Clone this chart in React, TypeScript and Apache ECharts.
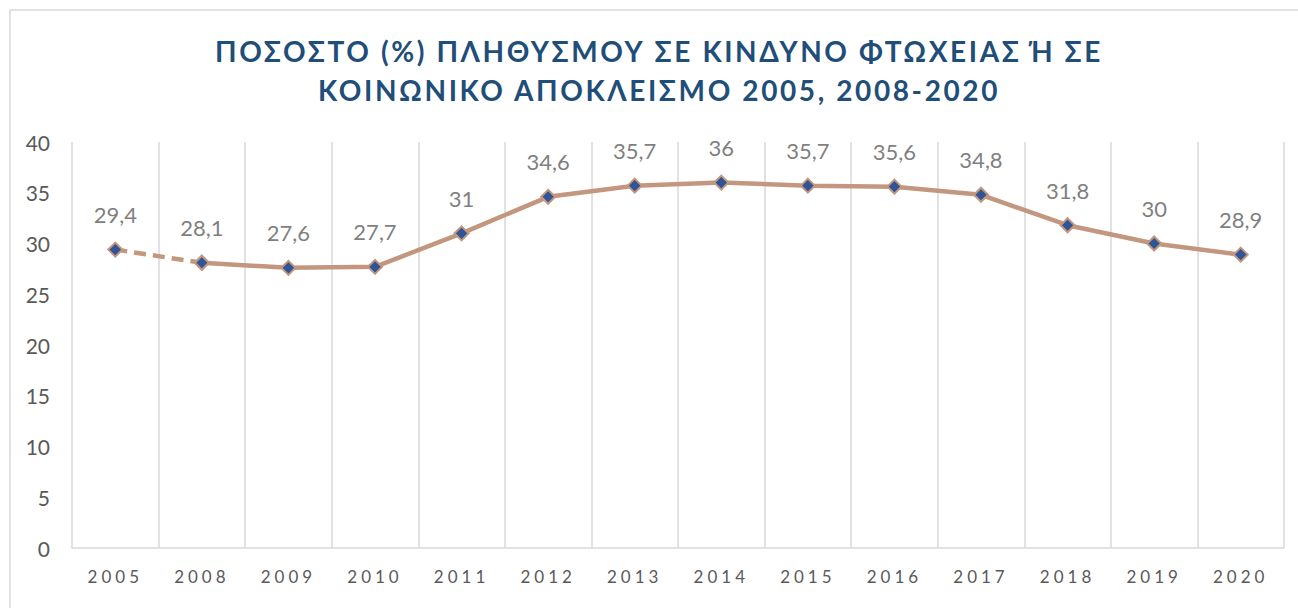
import React, { useEffect, useRef } from "react";
import * as echarts from "echarts";

const categories = ["2005", "2008", "2009", "2010", "2011", "2012", "2013", "2014", "2015", "2016", "2017", "2018", "2019", "2020"];
const dashedValues = [29.4, 28.1, null, null, null, null, null, null, null, null, null, null, null, null];
const solidValues = [null, 28.1, 27.6, 27.7, 31, 34.6, 35.7, 36, 35.7, 35.6, 34.8, 31.8, 30, 28.9];
const titleLines = ["ΠΟΣΟΣΤΟ (%) ΠΛΗΘΥΣΜΟΥ ΣΕ ΚΙΝΔΥΝΟ ΦΤΩΧΕΙΑΣ Ή ΣΕ", "ΚΟΙΝΩΝΙΚΟ ΑΠΟΚΛΕΙΣΜΟ 2005, 2008-2020"];

const LINE = "#c3977f";
const MARK = "#2f5597";

export default function App() {
  const ref = useRef<HTMLDivElement>(null);
  useEffect(() => {
    document.body.style.margin = "0";
    const chart = echarts.init(ref.current!, null, { renderer: "svg" });
    const fmt = (p: any) => String(p.value).replace(".", ",");
    const marker = {
      symbol: "diamond",
      symbolSize: 14,
      itemStyle: { color: MARK, borderColor: LINE, borderWidth: 2 },
    };
    const labelStyle = {
      show: true,
      position: "top",
      distance: 16,
      fontFamily: "Lato",
      fontSize: 22,
      color: "#7f7f7f",
    };
    chart.setOption({
      animation: false,
      backgroundColor: "#ffffff",
      graphic: [
        {
          type: "rect",
          shape: { x: 10, y: 10, width: 1300, height: 610 },
          style: { fill: "none", stroke: "#d9d9d9", lineWidth: 1.5 },
          silent: true,
        },
        ...titleLines.map((t, i) => ({
          type: "text",
          x: 659,
          y: 51 + i * 39,
          style: {
            text: t,
            fill: "#1f4e79",
            font: "bold 28px Lato",
            align: "center",
            verticalAlign: "middle",
          },
          silent: true,
        })),
      ],
      grid: { left: 72, right: 14, top: 142, bottom: 60 },
      xAxis: {
        type: "category",
        data: categories,
        boundaryGap: true,
        axisLine: { lineStyle: { color: "#d9d9d9", width: 1.5 } },
        axisTick: { show: false },
        splitLine: { show: true, lineStyle: { color: "#d9d9d9", width: 1.5 } },
        axisLabel: {
          fontFamily: "Lato",
          fontSize: 17,
          color: "#595959",
          margin: 20,
        },
      },
      yAxis: {
        type: "value",
        min: 0,
        max: 40,
        interval: 5,
        axisLine: { show: false },
        axisTick: { show: false },
        splitLine: { show: false },
        axisLabel: {
          fontFamily: "Lato",
          fontSize: 21,
          color: "#595959",
          margin: 22,
        },
      },
      series: [
        {
          type: "line",
          data: dashedValues,
          ...marker,
          lineStyle: { color: LINE, width: 4.5, type: [12, 7] },
          label: { ...labelStyle, formatter: (p: any) => (p.dataIndex === 0 ? fmt(p) : "") },
          z: 2,
        },
        {
          type: "line",
          data: solidValues,
          ...marker,
          lineStyle: { color: LINE, width: 4.5 },
          label: { ...labelStyle, formatter: fmt },
          z: 3,
        },
      ],
    });
    const applySpacing = () => {
      const root = ref.current;
      if (!root) return;
      root.querySelectorAll("text").forEach((el) => {
        const t = (el.textContent || "").trim();
        if (titleLines.includes(t)) (el as SVGTextElement).style.letterSpacing = "2.6px";
        else if (categories.includes(t)) (el as SVGTextElement).style.letterSpacing = "4px";
      });
    };
    applySpacing();
    chart.on("finished", applySpacing);
    return () => chart.dispose();
  }, []);
  return <div ref={ref} style={{ width: 1298, height: 608 }} />;
}
